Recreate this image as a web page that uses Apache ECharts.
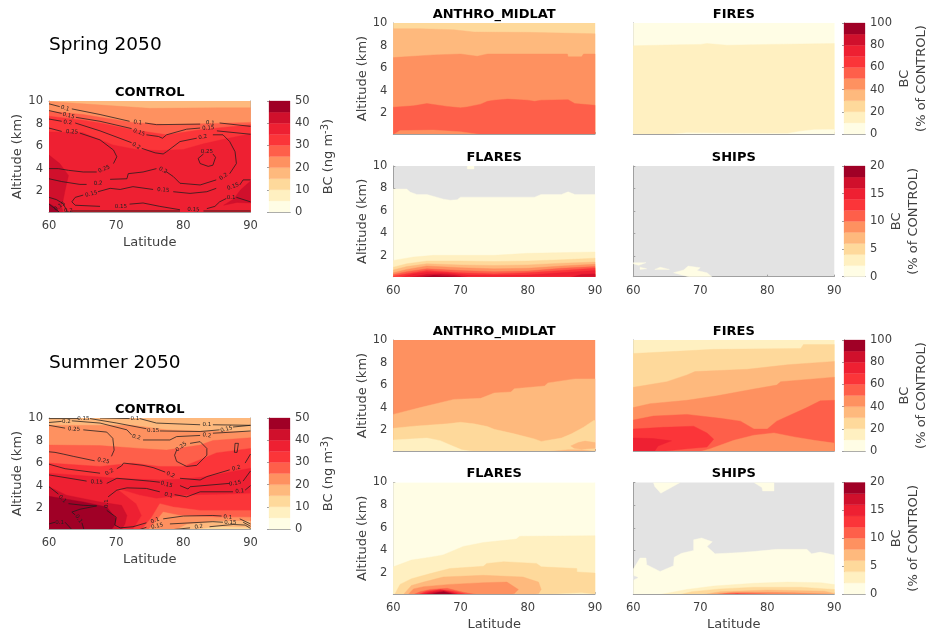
<!DOCTYPE html>
<html>
<head>
<meta charset="utf-8">
<style>html,body{margin:0;padding:0;background:#fff}#c{width:930px;height:634px}</style>
<script src="https://cdn.jsdelivr.net/npm/echarts@6/dist/echarts.min.js"></script>
</head>
<body>
<div id="c"></div>
<script>
// ---------- shared scale values ----------
const binColors = ['#FFFDE5','#FFF0C1','#FED99B','#FEB97D','#FE9160','#FE5F4A','#FB3539','#EE2032','#D0102C','#A00026'];
const missingColor = '#E3E3E3';
const latTicks = [60,70,80,90];
const altTicks = [2,4,6,8,10];
const binsControl = [0,5,10,15,20,25,30,35,40,45,50];
const binsFires = [0,10,20,30,40,50,60,70,80,90,100];
const binsSmall = [0,2,4,6,8,10,12,14,16,18,20];

// ---------- values: [bin, boundary]: everything below the boundary belongs to the bin ----------
const springControlBands = [
 [3,[[60,10],[90,10]]],
 [4,[[60,9.95],[64,9.8],[70,9.55],[75,9.35],[85,9.4],[90,9.4]]],
 [5,[[60,9.1],[65.1,8.8],[72.5,8.1],[77.5,7.9],[90,8.1]]],
 [6,[[60,8.65],[65.1,8.3],[67.6,8.05],[72.5,7.45],[77.5,7],[82.5,7.45],[90,7.9]]],
 [7,[[60,7.25],[65,7.2],[69.5,6.1],[73,5.7],[76.5,5.6],[80,5.7],[83,6.2],[86,6.6],[90,7.1]]]
];
const springControlPatches = [
 [8,[[60,.1],[60,5.2],[61.6,4.45],[62.9,3.4],[62.4,2.1],[61.9,.6],[62.1,.1]]],
 [8,[[86,.75],[87.5,1.3],[88.5,2.1],[90,2.9],[90,.95],[88,1]]],
 [9,[[60,.1],[60,.9],[61,.55],[61.5,.1]]]
];
const springControlLines = [
 [[60,9.75],[61.6,9.5]],[[63.4,9.3],[67.6,8.8],[72,8.2]],[[74.3,8.05],[76,7.9],[82.5,7.95]],[[85.4,8.05],[90,7.75]],
 [[60,9.15],[61.9,8.9]],[[64,8.55],[67.6,8.2],[72.3,7.55]],[[74.5,7],[76.3,6.85],[76.9,6.7],[77.5,7],[80.5,7.5],[82.5,7.6]],[[85,7.35],[90,7.05]],
 [[60,8.4],[61.9,8.2]],[[63.9,8.05],[67.6,7.35],[72.3,6.3]],[[73.8,5.8],[75.8,5.4],[77,5.3],[77.5,5.5],[79.5,6.4],[82,6.7]],
 [[84.4,7],[85.9,7],[86.9,6.4],[87.7,5.5],[87.9,4.45],[86.9,3.55]],[[84.9,3],[82.5,2.55],[79.5,2.7],[78.5,3.3],[77.4,3.75]],
 [[76,4],[74,3.7],[71.8,3.55],[71.6,3.1],[69.1,3.05]],[[65.6,2.6],[64.6,2.6],[61.9,2.85],[60,3.1]],
 [[60,7.6],[61.9,7.3]],[[64.6,7.15],[67.6,6.55],[69.6,5.65],[70.1,5.05],[69.6,4.45]],[[67.1,3.7],[65.1,3.7],[62.9,3.85],[61.4,4],[60,4]],
 [[84.4,5.3],[84.8,5],[84.4,4.3],[83.7,4.2],[82.5,4.45],[82.2,4.9],[83,5.3]],
 [[90,3],[88.9,3],[88.4,2.55]],[[84.9,2.25],[83.5,1.95],[81,1.8],[78.5,1.95]],[[75.5,2.15],[72.5,2.4],[70.6,2.15],[69.1,2.25],[67.3,1.95]],
 [[65.1,1.65],[63.9,1.45],[63.4,1.05],[63.9,.75],[67.6,.65]],[[72,.85],[74,.95],[76.5,.65],[79.5,.35]],[[83.5,.45],[84.7,.65],[85.4,1.05],[86.4,1.35]],[[87.9,1.45],[90,1.05]],
 [[60,1.45],[61.1,1.25],[62.1,.9],[62.8,.1]],
 [[60,.85],[60.9,.45],[61.6,.1]],
 [[63.4,.24],[79.5,.24]],[[83,.24],[90,.24]]
];
const springControlLabels = [
 [62.4,9.35,'0.1',-15],[73.2,8.1,'0.1',-8],[84,8.05,'0.1',-5],
 [62.9,8.7,'0.15',-15],[73.4,7.2,'0.15',-20],[83.7,7.6,'0.15',3],
 [62.8,8.1,'0.2',-5],[73,6,'0.2',-30],[82.9,6.8,'0.2',12],[86,3.3,'0.2',35],[77,3.85,'0.2',-25],[67.3,2.7,'0.2',3],
 [63.4,7.25,'0.25',-3],[68.2,3.95,'0.25',22],[83.5,5.5,'0.25',0],
 [87.4,2.4,'0.15',20],[77,2.1,'0.15',-5],[66.3,1.75,'0.15',12],[70.7,.65,'0.15',0],[81.5,.35,'0.15',-3],[87.1,1.45,'0.1',0],
 [61.6,.65,'0.15',35],[62.9,.25,'0.2',0]
];

const summerControlBands = [
 [3,[[60,10],[90,10]]],
 [4,[[60,9.35],[72.5,9.35],[77.5,8.95],[82.5,8.85],[90,8.8]]],
 [5,[[60,7.6],[67.6,7.55],[73.5,7.3],[77.5,7.15],[82.5,7.6],[84.4,8],[90,8.25]]],
 [6,[[60,6],[67.6,5.7],[72.5,6],[76.5,5.7],[80,5.7],[82.5,6.3],[84.9,6.9],[90,7.3]]],
 [7,[[60,5.1],[70.1,4.65],[76.5,4.5],[80.5,4.6],[83.5,4.8],[90,5.55]]]
];
const summerControlPatches = [
 [6,[[70.1,3.75],[73.5,3.15],[76,2.85],[80.5,3.15],[84.9,3.2],[90,3.3],[90,.1],[72.5,.1],[73.8,1.35],[73,2.4]]],
 [5,[[73.8,.1],[75.3,1.2],[76.5,2.4],[78.5,2.1],[82.5,1.8],[90,1.8],[90,.1]]],
 [4,[[74.8,.1],[76,.9],[77,1.65],[79.5,1.35],[84.9,1.2],[90,1.2],[90,.1]]],
 [3,[[79,.1],[80.5,.55],[84.9,.85],[90,.85],[90,.1]]],
 [2,[[82,.1],[84.9,.35],[90,.25],[90,.1]]],
 [8,[[60,.1],[60,3.9],[62.6,3.15],[67.6,2.55],[70.8,2.25],[71.6,1.35],[71.3,.6],[70.8,.1]]],
 [9,[[60,3.05],[65.1,2.55],[68.6,2.1],[70,1.05],[69.8,.5],[69.3,.1],[60,.1]]]
];
const summerControlLines = [
 [[67.6,10],[72,9.95]],[[73.5,9.95],[76,9.55],[82.5,9.4]],[[84.4,9.4],[90,9.35]],
 [[60,9.95],[64.4,9.95]],[[66.1,9.95],[70.1,9.55],[74.5,9.05]],[[76.5,8.85],[82.5,8.8],[85.4,8.95]],[[87.4,9.2],[90,9.35]],
 [[60,9.6],[61.9,9.7]],[[63.4,9.75],[67.6,9.55],[71.6,8.95],[72.3,8.5]],[[74,8.05],[78,8.05],[79,8.35],[82.5,8.45]],[[84.4,8.65],[87.4,8.75],[90,8.85]],
 [[60,9.35],[62.4,9.1]],[[65.1,8.95],[68.6,8.75],[69.5,8.2],[69.7,7.15],[69.3,6.6]],[[66.8,6.2],[63.6,6.6],[62.1,6.8],[60.9,6.95],[60,7]],
 [[81,7.75],[82.5,7.9],[83.5,7.3],[83.5,6.7],[82,5.8],[80.5,5.7],[79,6.15],[78.7,6.7],[79,7.15]],
 [[87.7,7.75],[88.2,7.75],[88,6.95],[87.6,6.95],[87.7,7.75]],
 [[60,5.9],[62.4,5.5],[67.6,5.1]],[[70.1,5.5],[70.8,5.75],[71.1,6],[74,5.8],[75.5,5.6],[77.3,5.2]],[[79.5,4.65],[82.5,4.5],[83.5,4.8],[86.9,5.4]],[[89.2,6],[90,6.8]],
 [[60,4.95],[65.6,4.4]],[[68.6,4.2],[70.1,4.65],[75,4.4],[76.5,4.3]],[[79.5,4],[80.7,3.7],[81,3.9],[86.9,4.2]],[[88.9,4.4],[90,5.3]],
 [[60,3.9],[61.4,3.25]],[[62.9,2.4],[65.1,2.25],[67.1,2.2],[64.6,1.9],[63.4,1.65],[63.9,1.4]],[[64.9,.7],[65.2,.1]],
 [[60,.6],[60.9,.75]],[[62.4,.75],[63.4,.1]],
 [[90,4],[89.2,3.6]],[[87.4,3.45],[82.5,3.45],[80.5,3],[78.7,3.2]],[[76.5,3.45],[74.5,3.75],[71.6,3.8],[70.1,3.6],[68.8,3]],[[68.6,1.8],[70,1.2],[69.8,.5],[70.6,.25],[72.5,.35],[74.5,.7]],[[77,1.05],[80,1.3],[84.4,1.35],[85.7,1.3]],[[88.4,1.05],[90,.6]],
 [[73.5,.1],[74.5,.3]],[[78,.6],[84.4,.8],[85.9,.75]],[[88.9,.75],[90,.4]],
 [[78.5,.1],[81,.25]],[[83.9,.35],[87.4,.55],[89.2,.5],[90,.2]]
];
const summerControlLabels = [
 [72.8,9.95,'0.1',0],[83.5,9.4,'0.1',0],[65.1,9.95,'0.15',0],[75.5,8.9,'0.15',0],[86.4,9,'0.15',12],
 [62.6,9.7,'0.2',0],[73,8.3,'0.2',-15],[83.5,8.45,'0.2',-10],[63.7,9,'0.25',-3],[68.1,6.2,'0.25',-12],[79.7,7.45,'0.25',38],
 [69,5.2,'0.2',28],[78.1,4.95,'0.2',-22],[87.9,5.55,'0.2',15],[67.1,4.3,'0.15',-3],[77.5,4.1,'0.15',-15],[87.7,4.2,'0.15',10],
 [62,2.8,'0.1',-45],[64.4,1.05,'0.1',-55],[61.6,.75,'0.1',0],[88.4,3.5,'0.1',5],[77.8,3.15,'0.1',-15],[68.6,2.4,'0.1',90],
 [75.8,.9,'0.1',22],[86.6,1.2,'0.1',-5],[76.1,.4,'0.15',12],[87,.75,'0.15',0],[82.3,.35,'0.2',8]
];

const springAnthroBands = [
 [2,[[60,10],[90,10]]],
 [3,[[60,9.5],[64,9.5],[69,9.4],[72,9.2],[80,9.17],[90,9.05]]],
 [4,[[60,6.93],[63,7.05],[66,7.17],[70,7.25],[72.5,7.05],[74,7.25],[85.9,7.25],[86,7],[88,7],[88.3,7.25],[90,7.25]]],
 [5,[[60,2.53],[63,2.65],[65,2.85],[68,2.6],[70,2.47],[71,2.55],[73,2.8],[74,3.05],[75,3.15],[77,3.25],[80,3.15],[81,3.05],[82,3.15],[86,3.2],[87,2.85],[90,2.7]]]
];
const springAnthroPatches = [
 [4,[[60,.1],[61,.45],[66,.5],[70,.35],[73,.1]]]
];
const springFiresBands = [
 [0,[[60,10],[90,10]]],
 [1,[[60,7.98],[67,8.07],[70,8.1],[71,8.18],[74,8.03],[80,8.1],[90,8.18]]]
];
const springFiresPatches = [
 [0,[[65,.1],[68,.25],[75,.22],[80,.2],[83,.2],[85,.4],[87,.53],[90,.55],[90,.1]]]
];
const springFlaresBands = [
 [0,[[60,7.95],[62,7.95],[62.5,7.68],[63.5,7.47],[65,7.47],[67.5,7.05],[68.5,6.96],[69.5,7],[70,7.23],[81,7.23],[82,7.47],[85,7.47],[86,7.7],[87,7.47],[90,7.47]]],
 [1,[[60,1.6],[63,1.9],[66,2.05],[75,2.05],[80,2.23],[90,2.35]]],
 [2,[[60,1],[62,1.3],[65,1.55],[70,1.55],[75,1.5],[80,1.55],[85,1.65],[90,1.8]]],
 [3,[[60,.75],[62,1.05],[65,1.3],[70,1.2],[75,1.15],[80,1.2],[85,1.35],[90,1.45]]],
 [4,[[60,.5],[62,.8],[65,1.1],[70,.95],[75,.85],[80,.9],[85,1.1],[90,1.25]]],
 [5,[[60,.35],[62,.6],[65,.85],[70,.7],[75,.6],[80,.65],[85,.9],[90,1.05]]],
 [6,[[60,.2],[62,.42],[65,.7],[70,.5],[75,.4],[80,.5],[85,.7],[90,.9]]],
 [7,[[61,.1],[63,.4],[65,.55],[68,.5],[71,.3],[75,.25],[80,.3],[85,.5],[90,.7]]]
];
const springFlaresPatches = [
 [0,[[71,10],[71,9.73],[72,9.73],[72,10]]],
 [8,[[62.5,.1],[65,.35],[67,.4],[69,.3],[71,.1]]],
 [8,[[86.5,.1],[88,.35],[90,.4],[90,.1]]],
 [9,[[64,.1],[66,.25],[68,.2],[70,.1]]]
];
const springShipsBands = [];
const springShipsPatches = [
 [0,[[60,1.4],[61.9,1.4],[60.8,1.16],[60,1.3]]],
 [0,[[61,1],[62,.85],[61,.8]]],
 [0,[[63.2,.8],[64,1],[65.4,.8]]],
 [0,[[66,.5],[67.5,.75],[68.2,1.1],[70,.95],[69.5,.7],[71,.5],[71.8,.1],[68.5,.1]]]
];

const summerAnthroBands = [
 [4,[[60,10],[90,10]]],
 [3,[[60,3.4],[64,4],[69,4.73],[73,4.82],[75,5.3],[77.5,5.39],[78,5.68],[82.5,5.92],[83,6.19],[87,6.55],[90,6.55]]],
 [2,[[60,2.17],[63,2.35],[68,2.56],[70,2.7],[72,2.56],[74,2.32],[75,2.08],[78,1.67],[81,1.22],[82,1],[85,1.3],[86.5,1.67],[88.3,2.26],[89.8,2.86],[90,2.85]]]
];
const summerAnthroPatches = [
 [1,[[60,.1],[60,1.13],[65,1.3],[67,1.07],[69,.55],[70.2,.25],[72,.1]]],
 [3,[[86.4,.6],[87.5,.9],[88.5,1.03],[90,.9],[90,.4],[88,.3],[86.9,.4]]],
 [3,[[83,.1],[86,.25],[88,.25],[90,.12],[90,.1]]]
];
const summerFiresBands = [
 [1,[[60,10],[90,10]]],
 [2,[[60,8.8],[65,8.95],[72,9.17],[85,9.25],[85.4,9.6],[90,9.6]]],
 [3,[[60,5.8],[65,6.3],[68,6.9],[69.2,7.2],[77,7.4],[83,7.8],[90,8.1]]],
 [4,[[60,4],[62.5,4.35],[68,4.65],[72.5,5.05],[78,5.65],[81.4,6],[82,6.3],[90,6.7]]],
 [5,[[60,2.9],[63,3.25],[68,3.4],[73,3.05],[76,2.8],[78,2.1],[80,2.1],[81.4,2.8],[85.9,4],[87.9,4.6],[90,4.65]]]
];
const summerFiresPatches = [
 [4,[[70,.1],[71.5,.35],[75,1.1],[78,1.55],[81,1.75],[84,1.4],[87,1.1],[90,.85],[90,.1]]],
 [6,[[60,.1],[60,2.1],[64.5,2.25],[69,2.35],[71,1.75],[72,1.2],[71,.5],[68,.35],[64,.1]]],
 [7,[[60,.1],[60,1.3],[63,1.25],[65.7,1.05],[63.7,.6],[63.2,.15],[63,.1]]]
];
const summerFlaresBands = [
 [0,[[60,10],[90,10]]],
 [1,[[60,2.55],[62.7,3.15],[65.5,3.4],[67.4,3.6],[70.4,4.35],[73.4,4.7],[78.3,5],[78.8,5.25],[90,5.3]]]
];
const summerFlaresPatches = [
 [2,[[60.2,.1],[61,1],[62.7,1.5],[65.5,1.95],[68.4,2.4],[73.4,2.6],[73.9,2.85],[76.4,3],[81.3,2.85],[82,2.55],[87.3,2.4],[87.3,2.1],[90,2],[90,.1]]],
 [1,[[83,.1],[86,.2],[88,.25],[90,.12],[90,.1]]],
 [3,[[61.5,.1],[62.7,.9],[64.5,1.2],[67.4,1.65],[73.4,1.8],[79.3,1.65],[81.6,1.2],[82,.55],[81.6,.2],[80.8,.1]]],
 [4,[[62.2,.1],[63,.6],[64.5,.8],[68.4,1],[73.4,1.15],[76.9,1.2],[78.6,.55],[78,.2],[77.4,.1]]],
 [5,[[63,.1],[64,.35],[65.5,.55],[68,.65],[70.4,.3],[72.4,.1]]],
 [6,[[63.7,.1],[65,.4],[67,.55],[69,.4],[71,.1]]],
 [7,[[64,.1],[65.5,.35],[67,.5],[68.5,.35],[70,.1]]],
 [8,[[64.5,.1],[66,.3],[67.5,.42],[69,.2],[69.5,.1]]],
 [9,[[65.5,.1],[66.5,.25],[67.5,.35],[68.5,.2],[69,.1]]]
];
const summerShipsBands = [
 [0,[[60,2.35],[61,3.33],[61.9,3.33],[62,2.74],[64,2.14],[66,2.65],[66.1,3.4],[67.2,3.75],[69,4],[69,4.94],[70.2,5.1],[71.8,4.76],[71,4.35],[72.2,3.7],[75.4,3.8],[77.9,3.9],[81.4,4.1],[85.9,4.1],[86.6,3.7],[87.9,3.85],[90,3.6]]]
];
const summerShipsPatches = [
 [-1,[[60,1.76],[60.7,1.6],[60,1.4]]],
 [0,[[63,10],[63.2,9.65],[64.1,9.05],[67,10]]],
 [0,[[78,10],[79.2,9.55],[79.3,9.25],[81,9.25],[81,10]]],
 [1,[[64,.1],[68,.55],[72,.85],[78,1.1],[83,1.2],[88,1.15],[90,.98],[90,.1]]],
 [2,[[67,.1],[68.7,.35],[73,.6],[78,.75],[85,.75],[90,.55],[90,.1]]],
 [3,[[70.4,.1],[73,.35],[80,.5],[88.5,.4],[90,.2],[90,.1]]],
 [4,[[71.5,.1],[75,.3],[80,.3],[84,.25],[89,.15],[90,.1]]],
 [5,[[72.5,.1],[74,.2],[77,.22],[80,.15],[84,.1]]],
 [6,[[74,.1],[75.5,.17],[77,.1]]]
];

// ---------- layout ----------
const font = 'DejaVu Sans';
const ink = '#404040', frame = '#a0a0a0';
const panels = [
 {t:'CONTROL',g:[49,101,201.5,111],b:springControlBands,p:springControlPatches,l:springControlLines,n:springControlLabels,xl:1,yl:1,xn:1,yn:16},
 {t:'CONTROL',g:[49,418,201.5,111],b:summerControlBands,p:summerControlPatches,l:summerControlLines,n:summerControlLabels,xl:1,yl:1,xn:1,yn:16},
 {t:'ANTHRO_MIDLAT',g:[393.3,23,201.7,111],b:springAnthroBands,p:springAnthroPatches,xl:0,yl:1,yn:16},
 {t:'FIRES',g:[633.3,23,201,111],b:springFiresBands,p:springFiresPatches,xl:0,yl:0},
 {t:'FLARES',g:[393.3,166,201.7,110.7],b:springFlaresBands,p:springFlaresPatches,xl:1,yl:1,yn:16,miss:1},
 {t:'SHIPS',g:[633.3,166,201,110.7],b:springShipsBands,p:springShipsPatches,xl:1,yl:0,miss:1},
 {t:'ANTHRO_MIDLAT',g:[393.3,340,201.7,111],b:summerAnthroBands,p:summerAnthroPatches,xl:0,yl:1,yn:16},
 {t:'FIRES',g:[633.3,340,201,111],b:summerFiresBands,p:summerFiresPatches,xl:0,yl:0},
 {t:'FLARES',g:[393.3,482.5,201.7,111.5],b:summerFlaresBands,p:summerFlaresPatches,xl:1,yl:1,xn:1,yn:16},
 {t:'SHIPS',g:[633.3,482.5,201,111.5],b:summerShipsBands,p:summerShipsPatches,xl:1,yl:0,xn:1,miss:1}
];
const colorbars = [
 {g:[269,101,21,111],bins:binsControl,ticks:[0,10,20,30,40,50],name:'BC (ng m{sup|-3})',gap:30},
 {g:[269,418,21,111],bins:binsControl,ticks:[0,10,20,30,40,50],name:'BC (ng m{sup|-3})',gap:30},
 {g:[844,23,21,111],bins:binsFires,ticks:[0,20,40,60,80,100],name:'BC\n(% of CONTROL)',gap:31},
 {g:[844,166,21,110.7],bins:binsSmall,ticks:[0,5,10,15,20],name:'BC\n(% of CONTROL)',gap:17},
 {g:[844,340,21,111],bins:binsFires,ticks:[0,20,40,60,80,100],name:'BC\n(% of CONTROL)',gap:31},
 {g:[844,482.5,21,111.5],bins:binsSmall,ticks:[0,5,10,15,20],name:'BC\n(% of CONTROL)',gap:17}
];

const grids=[],xAxes=[],yAxes=[],series=[],titles=[];
const altMin=0.15;
function addFrame(gi,xr,yr){
  xAxes.push({gridIndex:gi,type:'value',position:'top',min:xr[0],max:xr[1],axisLine:{show:true,lineStyle:{color:frame}},axisTick:{show:false},axisLabel:{show:false},splitLine:{show:false}});
  yAxes.push({gridIndex:gi,type:'value',position:yr[2]||'right',min:yr[0],max:yr[1],axisLine:{show:true,lineStyle:{color:frame}},axisTick:{show:false},axisLabel:{show:false},splitLine:{show:false}});
}
panels.forEach(pn=>{
  const gi=grids.length;
  grids.push({left:pn.g[0],top:pn.g[1],width:pn.g[2],height:pn.g[3],outerBoundsMode:'none',backgroundColor:pn.miss?missingColor:'transparent',show:!!pn.miss,borderWidth:0});
  const xi=xAxes.length, yi=yAxes.length;
  xAxes.push({gridIndex:gi,type:'value',position:'bottom',min:60,max:90,interval:10,
    name:pn.xn?'Latitude':'',nameLocation:'middle',nameGap:24,nameTextStyle:{fontFamily:font,fontSize:13,color:ink},
    axisLine:{show:true,lineStyle:{color:frame}},axisTick:{show:true,inside:true,length:2,lineStyle:{color:frame}},
    axisLabel:{show:!!pn.xl,fontFamily:font,fontSize:11.5,color:ink,margin:8},splitLine:{show:false}});
  yAxes.push({gridIndex:gi,type:'value',position:'left',min:altMin,max:10,
    name:pn.yl?'Altitude (km)':'',nameLocation:'middle',nameGap:pn.yn||16,nameRotate:90,nameTextStyle:{fontFamily:font,fontSize:13,color:ink},
    axisLine:{show:true,lineStyle:{color:frame}},axisTick:{show:true,inside:true,length:2,customValues:altTicks,lineStyle:{color:frame}},
    axisLabel:{show:!!pn.yl,customValues:altTicks,fontFamily:font,fontSize:11.5,color:ink,margin:6},splitLine:{show:false}});
  if(pn.l) addFrame(gi,[60,90],[altMin,10]);
  const shapes=[];
  pn.b.forEach(r=>shapes.push({lvl:r[0],pts:r[1].concat([[90,0],[60,0]])}));
  pn.p.forEach(r=>shapes.push({lvl:r[0],pts:r[1]}));
  series.push({type:'custom',coordinateSystem:'cartesian2d',xAxisIndex:xi,yAxisIndex:yi,clip:true,silent:true,z:2,
    data:shapes.map((s,i)=>[i]),encode:{x:-1,y:-1},
    renderItem:(params,api)=>{
      const s=shapes[params.dataIndex];
      const c=s.lvl<0?missingColor:binColors[s.lvl];
      return {type:'polygon',shape:{points:s.pts.map(q=>api.coord(q))},style:{fill:c,stroke:c,lineWidth:.4}};
    }});
  if(pn.l){
    series.push({type:'custom',coordinateSystem:'cartesian2d',xAxisIndex:xi,yAxisIndex:yi,clip:true,silent:true,z:3,
      data:pn.l.map((s,i)=>[i]),encode:{x:-1,y:-1},
      renderItem:(params,api)=>({type:'polyline',shape:{points:pn.l[params.dataIndex].map(q=>api.coord(q))},style:{fill:null,stroke:'#1c1c1c',lineWidth:.75}})});
    series.push({type:'custom',coordinateSystem:'cartesian2d',xAxisIndex:xi,yAxisIndex:yi,clip:false,silent:true,z:4,
      data:pn.n.map((s,i)=>[i]),encode:{x:-1,y:-1},
      renderItem:(params,api)=>{
        const n=pn.n[params.dataIndex], c=api.coord([n[0],n[1]]);
        return {type:'text',x:c[0],y:c[1],rotation:n[3]*Math.PI/180,style:{text:n[2],fontFamily:font,fontSize:5.5,fill:'#222',align:'center',verticalAlign:'middle'}};
      }});
  }
  titles.push({text:pn.t,left:pn.g[0]+pn.g[2]/2,top:pn.g[1]-15,padding:0,textAlign:'center',textStyle:{fontFamily:font,fontSize:13,fontWeight:'bold',color:'#000'}});
});
colorbars.forEach(cb=>{
  const gi=grids.length, n=cb.bins.length-1, top=cb.bins[n];
  grids.push({left:cb.g[0],top:cb.g[1],width:cb.g[2],height:cb.g[3],outerBoundsMode:'none',show:false});
  const xi=xAxes.length, yi=yAxes.length;
  xAxes.push({gridIndex:gi,type:'value',position:'bottom',min:0,max:1,axisLine:{show:true,lineStyle:{color:frame}},axisTick:{show:false},axisLabel:{show:false},splitLine:{show:false}});
  yAxes.push({gridIndex:gi,type:'value',position:'right',min:0,max:top,
    name:cb.name,nameLocation:'middle',nameGap:cb.gap,nameRotate:90,
    nameTextStyle:{fontFamily:font,fontSize:13,color:ink,lineHeight:17,rich:{sup:{fontFamily:font,fontSize:10,color:ink,verticalAlign:'top',padding:[0,0,4,0]}}},
    axisLine:{show:true,lineStyle:{color:frame}},axisTick:{show:true,inside:true,length:2,customValues:cb.ticks,lineStyle:{color:frame}},
    axisLabel:{customValues:cb.ticks,fontFamily:font,fontSize:11.5,color:ink,margin:5},splitLine:{show:false}});
  addFrame(gi,[0,1],[0,top,'left']);
  series.push({type:'custom',coordinateSystem:'cartesian2d',xAxisIndex:xi,yAxisIndex:yi,silent:true,z:2,
    data:binColors.map((c,i)=>[i]),encode:{x:-1,y:-1},
    renderItem:(params,api)=>{
      const i=params.dataIndex;
      const a=api.coord([0,cb.bins[i]]), b=api.coord([1,cb.bins[i+1]]);
      return {type:'rect',shape:{x:a[0],y:b[1],width:b[0]-a[0],height:a[1]-b[1]},style:{fill:binColors[i],stroke:binColors[i],lineWidth:.3}};
    }});
});
titles.push({text:'Spring 2050',left:49,top:36,padding:0,textStyle:{fontFamily:font,fontSize:18.5,fontWeight:'normal',color:'#000'}});
titles.push({text:'Summer 2050',left:49,top:354,padding:0,textStyle:{fontFamily:font,fontSize:18.5,fontWeight:'normal',color:'#000'}});

const chart=echarts.init(document.getElementById('c'),null,{renderer:'canvas'});
chart.setOption({animation:false,backgroundColor:'#fff',title:titles,grid:grids,xAxis:xAxes,yAxis:yAxes,series:series});
</script>
</body>
</html>
